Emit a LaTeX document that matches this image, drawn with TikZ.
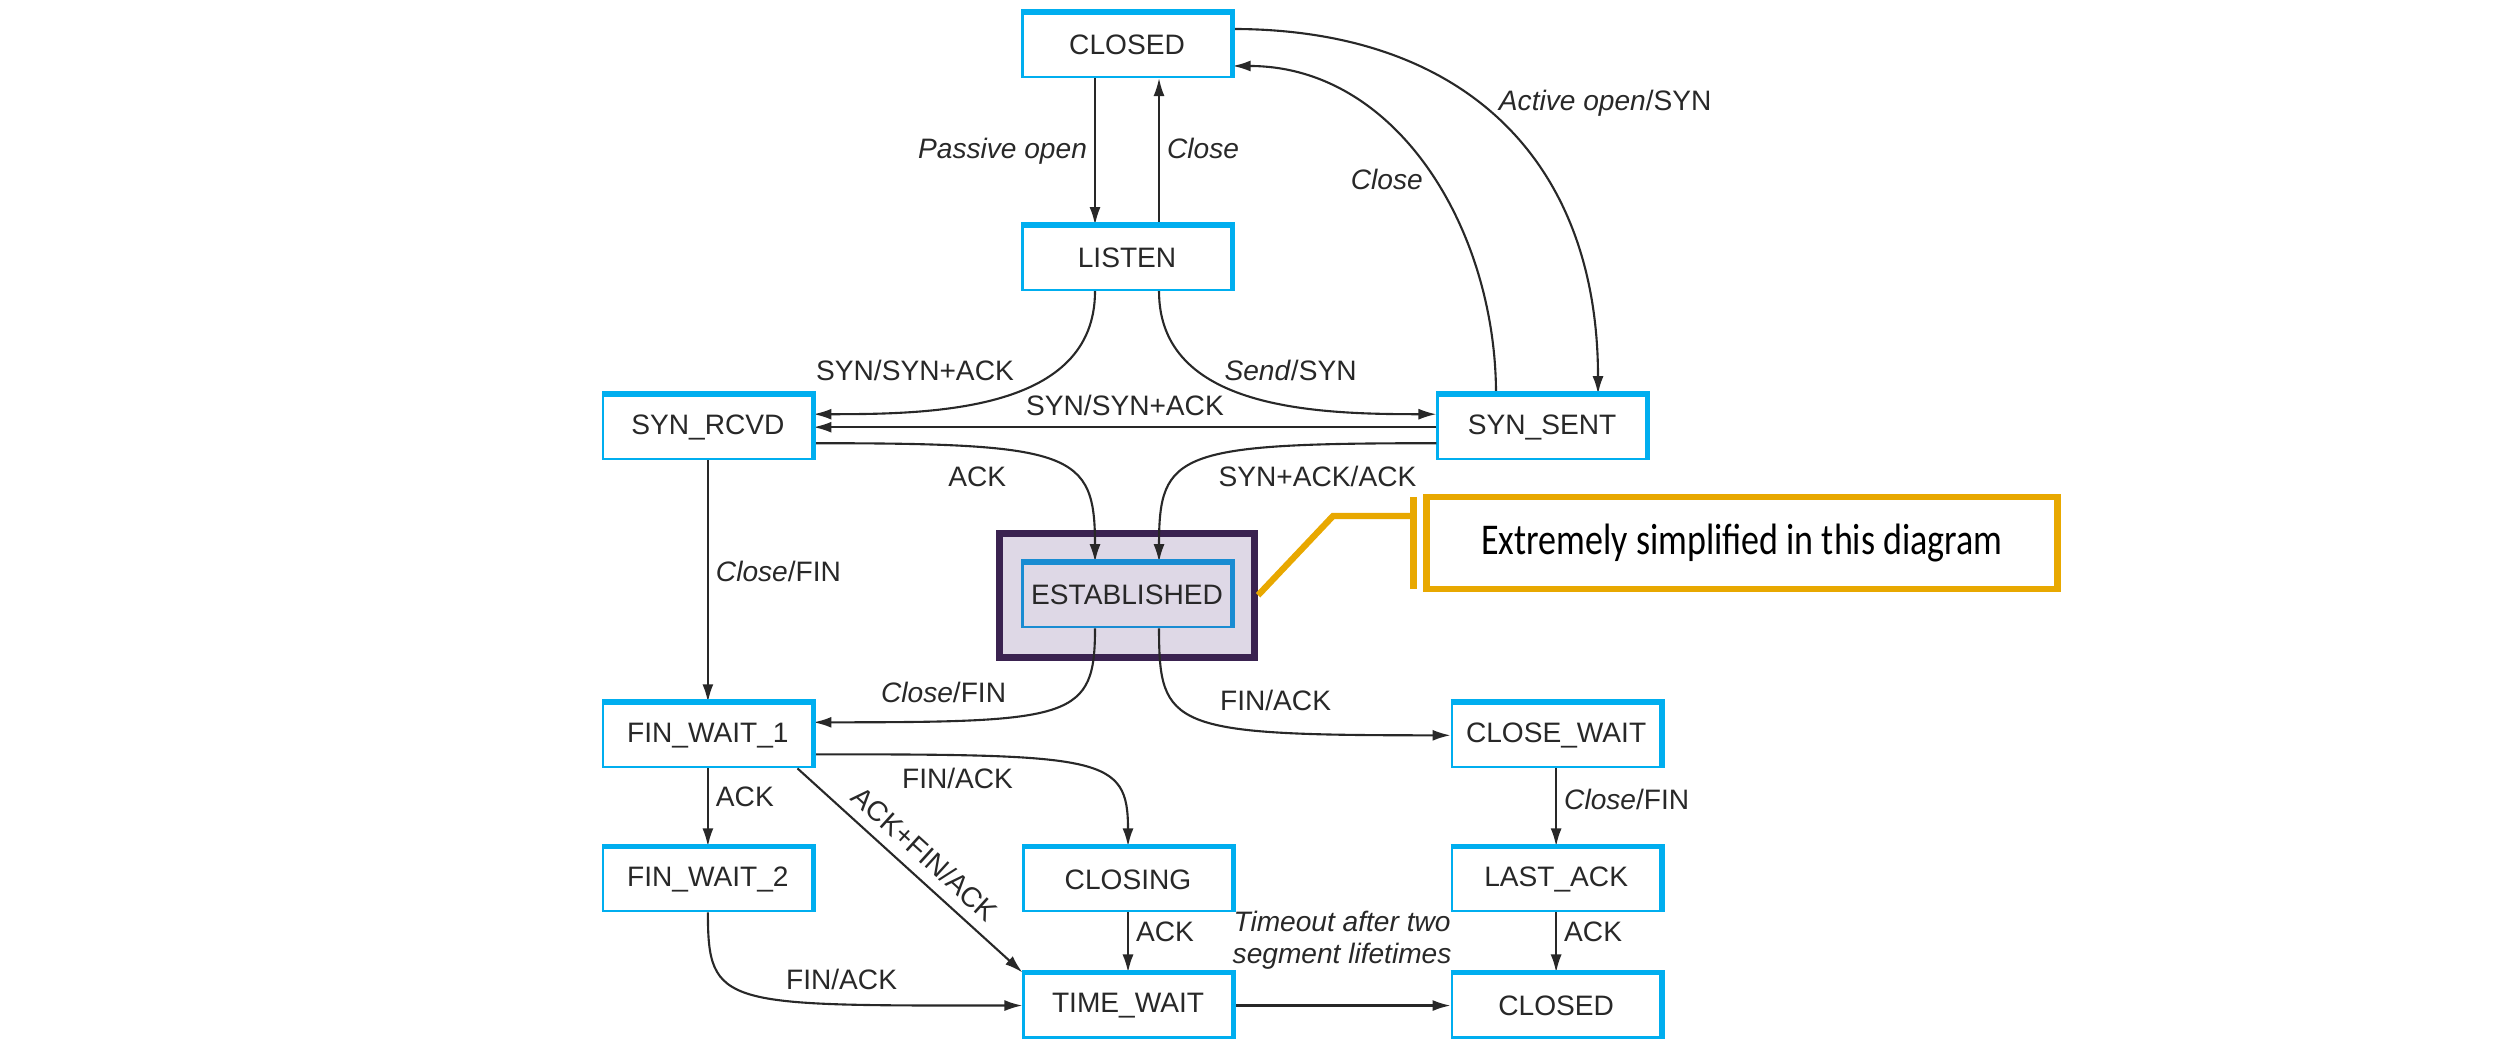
\documentclass[tikz,border=0pt]{standalone}
\usepackage{graphicx}
\usepackage{fontspec}
\setmainfont{Liberation Sans}
\newfontfamily\calloutfont{Carlito}
\usepackage{tikz}
\usetikzlibrary{arrows.meta,positioning,fit,backgrounds}
\definecolor{stateblue}{RGB}{0,174,239}
\definecolor{estblue}{RGB}{25,140,210}
\definecolor{framefill}{RGB}{222,216,230}
\definecolor{framedark}{RGB}{58,34,80}
\definecolor{notegold}{RGB}{232,168,0}
\definecolor{inkgray}{RGB}{40,40,40}

\begin{document}
\begin{tikzpicture}[>={Latex[length=1.8mm,width=1.1mm]},
    tcpstate/.style={draw=stateblue, line width=0.6pt, fill=white, minimum width=2.09cm,
      minimum height=0.64cm, inner sep=1pt, font=\fontsize{8}{9}\selectfont, text=inkgray},
    lbl/.style={font=\fontsize{8}{9}\selectfont, text=inkgray, inner sep=2pt},
    trans/.style={->, draw=inkgray, line width=0.6pt}]
    \useasboundingbox (0,0) rectangle (25.04,-10.52);

    % states
    \node[tcpstate] (closedtop) at (11.27,-0.45) {CLOSED};
    \node[tcpstate, below=1.47cm of closedtop] (listen) {LISTEN};
    \node[tcpstate, below left=1.03cm and 2.08cm of listen] (synrcvd) {SYN\_RCVD};
    \node[tcpstate, right=6.23cm of synrcvd] (synsent) {SYN\_SENT};
    \node[tcpstate, fill=none, draw=estblue, below=2.71cm of listen] (established) {ESTABLISHED};
    \node[tcpstate, below=2.42cm of synrcvd] (finwait1) {FIN\_WAIT\_1};
    \node[tcpstate, below=0.78cm of finwait1] (finwait2) {FIN\_WAIT\_2};
    \node[tcpstate, right=2.09cm of finwait2] (closing) {CLOSING};
    \node[tcpstate, below=0.6cm of closing] (timewait) {TIME\_WAIT};
    \node[tcpstate, right=2.17cm of timewait] (closedbot) {CLOSED};
    \node[tcpstate, above=0.6cm of closedbot] (lastack) {LAST\_ACK};
    \node[tcpstate, above=0.78cm of lastack] (closewait) {CLOSE\_WAIT};

    \begin{scope}[on background layer]
        \node[draw=framedark, line width=2pt, fill=framefill, inner xsep=0.22cm, inner ysep=0.29cm, fit=(established)] (estframe) {};
    \end{scope}

    % callout
    \node[draw=notegold, line width=1.8pt, minimum width=6.31cm, minimum height=0.92cm,
      font=\calloutfont\fontsize{12.5}{14}\selectfont] (note) at (17.42,-5.43) {\scalebox{0.82}[1]{Extremely simplified in this diagram}};
    \coordinate (notebar) at ([xshift=-1mm]note.west);
    \coordinate (elbow) at (13.33,-5.16);
    \draw[notegold, line width=1.8pt] ([xshift=-1mm,yshift=-0.3mm]note.north west) -- ([xshift=-1mm,yshift=0.3mm]note.south west);
    \draw[notegold, line width=1.8pt] (estframe.east) -- (elbow) -- (elbow -| notebar);

    % opening
    \draw[trans] ([xshift=-3.2mm]closedtop.south) -- ([xshift=-3.2mm]listen.north) node[lbl, midway, left] {\textit{Passive open}};
    \draw[trans] ([xshift=3.2mm]listen.north) -- ([xshift=3.2mm]closedtop.south) node[lbl, pos=0.52, right] {\textit{Close}};
    \draw[trans] ([yshift=1.6mm]closedtop.east) to[out=0, in=90, looseness=1.15] node[lbl, pos=0.44, right=1.2mm] {\textit{Active open}/SYN} ([xshift=5.6mm]synsent.north);
    \draw[trans] ([xshift=-4.6mm]synsent.north) to[out=90, in=0] node[lbl, pos=0.47, left=0.3mm] {\textit{Close}} ([yshift=-2.1mm]closedtop.east);
    \draw[trans] ([xshift=-3.2mm]listen.south) to[out=-90, in=0] node[lbl, pos=0.3, left=3.5mm] {SYN/SYN+ACK} ([yshift=1.3mm]synrcvd.east);
    \draw[trans] ([xshift=3.2mm]listen.south) to[out=-90, in=180] node[lbl, pos=0.3, right=2mm] {\textit{Send}/SYN} ([yshift=1.3mm]synsent.west);
    \draw[trans] (synsent.west) -- (synrcvd.east) node[lbl, midway, above=0.3mm] {SYN/SYN+ACK};
    \draw[trans] ([yshift=-1.6mm]synrcvd.east) to[out=0, in=90, out distance=2.6cm, in distance=1.1cm] node[lbl, pos=0.63, left=6.1mm] {ACK} ([xshift=-3.2mm]established.north);
    \draw[trans] ([yshift=-1.6mm]synsent.west) to[out=180, in=90, out distance=2.6cm, in distance=1.1cm] node[lbl, pos=0.63, right=3.3mm] {SYN+ACK/ACK} ([xshift=3.2mm]established.north);

    % closing
    \draw[trans] (synrcvd.south) -- (finwait1.north) node[lbl, pos=0.46, right] {\textit{Close}/FIN};
    \draw[trans] ([xshift=-3.2mm]established.south) to[out=-90, in=0, out distance=0.9cm, in distance=2.6cm] node[lbl, pos=0.33, left=6.6mm] {\textit{Close}/FIN} ([yshift=1.3mm]finwait1.east);
    \draw[trans] ([xshift=3.2mm]established.south) to[out=-90, in=180, out distance=1cm, in distance=2.8cm] node[lbl, pos=0.33, right=4mm] {FIN/ACK} (closewait.west);
    \draw[trans] ([yshift=-1.9mm]finwait1.east) to[out=0, in=90, out distance=2.9cm, in distance=0.9cm] node[lbl, pos=0.2, below=0.5mm] {FIN/ACK} (closing.north);
    \draw[trans] (finwait1.south) -- (finwait2.north) node[lbl, pos=0.36, right] {ACK};
    \draw[trans] ([xshift=-1.6mm]finwait1.south east) -- (timewait.north west) node[lbl, midway, above=0.4mm, sloped] {ACK+FIN/ACK};
    \draw[trans] (finwait2.south) to[out=-90, in=180, out distance=0.95cm, in distance=3cm] node[lbl, pos=0.74, above=0.6mm] {FIN/ACK} (timewait.west);
    \draw[trans] (closing.south) -- (timewait.north) node[lbl, pos=0.32, right] {ACK};
    \draw[trans] (timewait.east) -- (closedbot.west) node[lbl, midway, above=2.8mm, align=center] {\textit{Timeout after two}\\\textit{segment lifetimes}};
    \draw[trans] (closewait.south) -- (lastack.north) node[lbl, pos=0.4, right] {\textit{Close}/FIN};
    \draw[trans] (lastack.south) -- (closedbot.north) node[lbl, pos=0.32, right] {ACK};

    % thicker top and right edges
    \foreach \s in {closedtop,listen,synrcvd,synsent,finwait1,finwait2,closing,timewait,closewait,lastack,closedbot}
        \draw[stateblue, line width=1.6pt] (\s.north west) -- (\s.north east) -- (\s.south east);
    \draw[estblue, line width=1.6pt] (established.north west) -- (established.north east) -- (established.south east);
\end{tikzpicture}
\end{document}
